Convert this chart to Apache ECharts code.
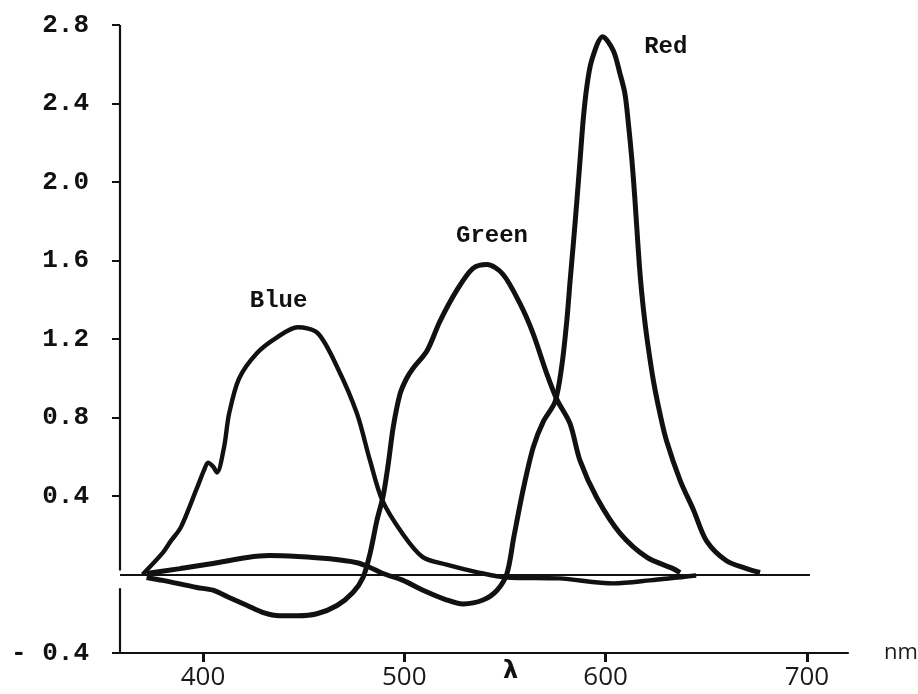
<!DOCTYPE html>
<html>
<head>
<meta charset="utf-8">
<script src="https://cdn.jsdelivr.net/npm/echarts@6/dist/echarts.min.js"></script>
<style>
html,body{margin:0;padding:0;background:#fff;}
#chart{width:918px;height:694px;}
</style>
</head>
<body>
<div id="chart"></div>
<script>
// ---- data (wavelength nm, value) ----
const xTicks = [400, 500, 600, 700];
const yTicks = [-0.4, 0.4, 0.8, 1.2, 1.6, 2.0, 2.4, 2.8];
const seriesNames = ['Blue', 'Green', 'Red'];

const blue = [
  [370,0.0],[380,0.11],[384,0.17],[389,0.24],[397,0.44],[400.5,0.53],[402.5,0.57],[405,0.55],[407,0.52],
  [410.5,0.65],[413,0.82],[418,1.0],[427,1.13],[437,1.21],[447,1.26],[457,1.23],[467,1.05],
  [476.5,0.82],[483,0.58],[489,0.38],[499,0.21],[509,0.09],[521,0.05],[537,0.01],[551,-0.015],
  [577,-0.02],[604,-0.045],[622,-0.03],[645,-0.005]
];
const green = [
  [372,-0.015],[380,-0.03],[397,-0.066],[405,-0.08],[413,-0.117],[422,-0.158],[430,-0.194],[438,-0.21],
  [447,-0.21],[456.6,-0.2],[466.6,-0.158],[474.5,-0.092],[479.5,-0.015],[483,0.107],[486.4,0.275],
  [489.5,0.40],[492,0.56],[494.5,0.75],[497.9,0.92],[501.2,1.0],[504.3,1.05],[511.3,1.14],[517.7,1.29],
  [526.2,1.45],[534.1,1.56],[541.1,1.58],[549,1.53],[557.5,1.38],[563.9,1.23],[570.9,1.02],[575.9,0.89],
  [582.3,0.77],[587.3,0.58],[595.7,0.39],[607.2,0.21],[620.6,0.087],[633.5,0.03],[637,0.01]
];
const red = [
  [372,0.005],[388.6,0.03],[405,0.056],[422,0.087],[433,0.097],[447,0.092],[463,0.08],[476.5,0.06],
  [483,0.036],[489.4,0.005],[499.4,-0.03],[509.3,-0.08],[521.2,-0.13],[529.2,-0.15],[539.1,-0.13],
  [546.1,-0.08],[551,0.005],[554.4,0.19],[559.2,0.44],[564.1,0.65],[569.1,0.78],[574.9,0.88],
  [578.2,1.06],[580.7,1.29],[582.4,1.50],[584.1,1.70],[585.7,1.90],[587.3,2.11],[588.9,2.32],
  [590.6,2.48],[593.1,2.62],[598.6,2.74],[603.8,2.67],[607.2,2.55],[609.6,2.45],[611.3,2.30],
  [613,2.12],[614.5,1.92],[615.8,1.72],[617.2,1.52],[618.8,1.35],[620.6,1.20],[623.7,0.99],[627,0.82],
  [630.3,0.68],[637,0.48],[643.6,0.33],[650.2,0.17],[660,0.07],[670,0.03],[676.7,0.01]
];
const zeroLine = [358.8, 701.5];
const yAxisGap = [0.02, -0.07];

// ---- chart ----
const INK = '#111';
const monoFont = '"Liberation Mono", "DejaVu Sans Mono", monospace';
const handFont = '"Open Sans", "DejaVu Sans", sans-serif';
const X_MIN = 358.8, X_MAX = 720.4, Y_MIN = -0.4, Y_MAX = 2.8;

function peakOf(arr) {
  return arr.reduce((m, p) => (p[1] > m[1] ? p : m), arr[0]);
}
const labelOffsets = { Blue: [-19, -26], Green: [5, -28], Red: [63, 10] };

function curve(name, data, extra) {
  return Object.assign({
    name: name,
    type: 'line',
    data: data,
    showSymbol: false,
    smooth: 0.3,
    lineStyle: { color: INK, width: 5 },
    z: 3,
    markPoint: {
      symbol: 'circle',
      symbolSize: 1,
      itemStyle: { color: 'rgba(0,0,0,0)' },
      silent: true,
      data: [{
        coord: peakOf(data),
        label: {
          show: true, formatter: name, position: 'inside',
          offset: labelOffsets[name],
          fontFamily: monoFont, fontWeight: 'bold', fontSize: 24, color: INK
        }
      }]
    }
  }, extra || {});
}

const chart = echarts.init(document.getElementById('chart'), null, { renderer: 'canvas' });
chart.setOption({
  animation: false,
  backgroundColor: '#fff',
  grid: { left: 120, right: 70, top: 25, bottom: 41, outerBoundsMode: 'none' },
  xAxis: {
    type: 'value',
    min: X_MIN, max: X_MAX,
    splitLine: { show: false },
    axisLine: { show: true, onZero: false, lineStyle: { color: INK, width: 2.2 } },
    axisTick: { show: true, customValues: xTicks, length: 9, lineStyle: { color: INK, width: 3 } },
    axisLabel: {
      customValues: xTicks, margin: 12,
      fontFamily: handFont, fontSize: 26, color: '#1a1a1a'
    },
    name: 'nm', nameLocation: 'end', nameGap: 36,
    nameTextStyle: { fontFamily: handFont, fontSize: 22, color: '#1a1a1a', padding: [36, 0, 0, 0] }
  },
  yAxis: {
    type: 'value',
    min: Y_MIN, max: Y_MAX,
    splitLine: { show: false },
    axisLine: { show: false },
    axisTick: { show: true, customValues: yTicks, length: 8, lineStyle: { color: INK, width: 2 } },
    axisLabel: {
      customValues: yTicks, margin: 31,
      fontFamily: monoFont, fontWeight: 'bold', fontSize: 26, color: INK,
      formatter: v => (v < 0 ? '- ' + Math.abs(v).toFixed(1) : v.toFixed(1))
    }
  },
  graphic: [{
    type: 'text', left: 503, top: 660,
    style: { text: 'λ', font: 'bold 24px "DejaVu Sans", sans-serif', fill: INK }
  }],
  series: [
    curve('Blue', blue, {
      lineStyle: { color: INK, width: 4.4 },
      markLine: {
        silent: true, symbol: 'none', label: { show: false },
        lineStyle: { color: INK, width: 1.8, type: 'solid' },
        data: [
          [{ coord: [zeroLine[0], 0] }, { coord: [zeroLine[1], 0] }],
          [{ coord: [X_MIN, Y_MAX] }, { coord: [X_MIN, yAxisGap[0]], lineStyle: { width: 2.2 } }],
          [{ coord: [X_MIN, yAxisGap[1]] }, { coord: [X_MIN, Y_MIN], lineStyle: { width: 2.2 } }]
        ]
      }
    }),
    curve('Green', green),
    curve('Red', red)
  ]
});
</script>
</body>
</html>
